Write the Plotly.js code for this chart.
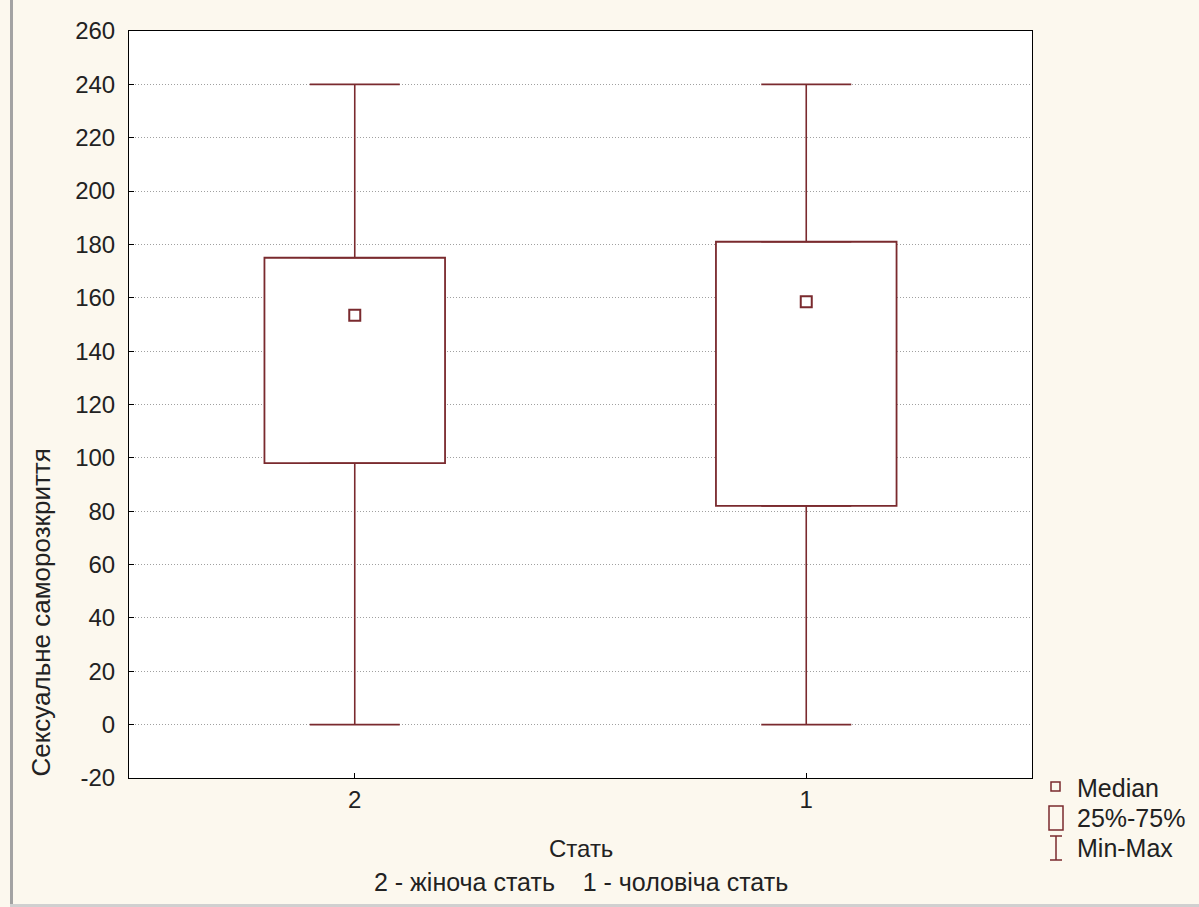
<!DOCTYPE html>
<html>
<head>
<meta charset="utf-8">
<script src="https://cdn.plot.ly/plotly-3.0.1.min.js"></script>
<style>
  html, body { margin:0; padding:0; background:#fcf8ee; }
  #chart { width:1199px; height:907px; }
  #lb { position:absolute; left:10px; top:0; width:3px; height:905px; background:#a3a3a3; }
  #bb { position:absolute; left:10px; top:904px; width:1189px; height:3px; background:#d0d0d0; }
</style>
</head>
<body>
<div id="chart"></div>
<div id="lb"></div>
<div id="bb"></div>
<script>
// Data
const categories = ['2', '1'];
const minVals    = [0, 0];
const q1Vals     = [98, 82];
const medianVals = [153.5, 158.5];
const q3Vals     = [175, 181];
const maxVals    = [240, 240];
const yTicks = [-20, 0, 20, 40, 60, 80, 100, 120, 140, 160, 180, 200, 220, 240, 260];

const C = '#7a2a2e';
const FONT = 'Liberation Sans, Arial, sans-serif';
const TXT = '#222';

const traces = [
  // lower whisker: from min up to q1
  {
    type: 'scatter', mode: 'markers', x: categories, y: q1Vals,
    marker: {size: 0.1, opacity: 0},
    error_y: {type: 'data', symmetric: false,
      array: q1Vals.map(() => 0),
      arrayminus: q1Vals.map((v, i) => v - minVals[i]),
      color: C, thickness: 1.6, width: 45},
    showlegend: false, hoverinfo: 'skip'
  },
  // upper whisker: from q3 up to max
  {
    type: 'scatter', mode: 'markers', x: categories, y: q3Vals,
    marker: {size: 0.1, opacity: 0},
    error_y: {type: 'data', symmetric: false,
      array: q3Vals.map((v, i) => maxVals[i] - v),
      arrayminus: q3Vals.map(() => 0),
      color: C, thickness: 1.6, width: 45},
    showlegend: false, hoverinfo: 'skip'
  },
  // box 25%-75%
  {
    type: 'bar', x: categories, base: q1Vals,
    y: q3Vals.map((v, i) => v - q1Vals[i]),
    width: 0.4,
    marker: {color: '#ffffff', line: {color: C, width: 1.8}},
    showlegend: false, hoverinfo: 'skip'
  },
  // median
  {
    type: 'scatter', mode: 'markers', x: categories, y: medianVals,
    marker: {symbol: 'square-open', size: 11, color: C, line: {width: 2, color: C}},
    showlegend: false
  }
];

const layout = {
  width: 1199, height: 907,
  paper_bgcolor: '#fcf8ee',
  plot_bgcolor: '#ffffff',
  margin: {l: 129, r: 167, t: 31, b: 129},
  font: {family: FONT, size: 24, color: TXT},
  showlegend: false,
  barmode: 'overlay',
  xaxis: {
    type: 'category', categoryorder: 'array', categoryarray: categories,
    range: [-0.5, 1.5],
    showline: true, linecolor: '#000', linewidth: 1, mirror: true,
    showgrid: false, zeroline: false,
    ticks: 'inside', ticklen: 5, tickcolor: '#000',
    tickfont: {family: FONT, size: 24, color: TXT}
  },
  yaxis: {
    range: [-20, 260], tickvals: yTicks, ticktext: yTicks.map(String),
    showline: true, linecolor: '#000', linewidth: 1, mirror: true,
    showgrid: true, gridcolor: '#a0a0a0', griddash: '1px,2px', gridwidth: 1,
    zeroline: false,
    ticks: 'inside', ticklen: 5, tickcolor: '#000',
    ticklabelstandoff: 8,
    tickfont: {family: FONT, size: 24, color: TXT}
  },
  annotations: [
    {xref: 'paper', yref: 'paper', x: -0.097, y: 0.222, xanchor: 'center', yanchor: 'middle',
     text: 'Сексуальне саморозкриття', textangle: -90, showarrow: false,
     font: {family: FONT, size: 26, color: TXT}},
    {xref: 'paper', yref: 'paper', x: 0.5, y: -0.094, xanchor: 'center', yanchor: 'middle',
     text: 'Стать', showarrow: false, font: {family: FONT, size: 24, color: TXT}},
    {xref: 'paper', yref: 'paper', x: 0.5, y: -0.139, xanchor: 'center', yanchor: 'middle',
     text: '2 - жіноча стать &nbsp;&nbsp;&nbsp;1 - чоловіча стать', showarrow: false,
     font: {family: FONT, size: 25, color: TXT}},
    {xref: 'paper', yref: 'paper', x: 1.048, y: -0.0135, xanchor: 'left', yanchor: 'middle',
     text: 'Median', showarrow: false, font: {family: FONT, size: 25, color: TXT}},
    {xref: 'paper', yref: 'paper', x: 1.048, y: -0.0535, xanchor: 'left', yanchor: 'middle',
     text: '25%-75%', showarrow: false, font: {family: FONT, size: 25, color: TXT}},
    {xref: 'paper', yref: 'paper', x: 1.048, y: -0.0937, xanchor: 'left', yanchor: 'middle',
     text: 'Min-Max', showarrow: false, font: {family: FONT, size: 25, color: TXT}}
  ],
  shapes: [
    // legend: median square
    {type: 'rect', xref: 'paper', yref: 'paper',
     x0: (1051 - 129) / 903, x1: (1060 - 129) / 903,
     y0: (778 - 791) / 747, y1: (778 - 782) / 747,
     line: {color: C, width: 1.5}, fillcolor: 'rgba(0,0,0,0)'},
    // legend: box
    {type: 'rect', xref: 'paper', yref: 'paper',
     x0: (1049 - 129) / 903, x1: (1063 - 129) / 903,
     y0: (778 - 830) / 747, y1: (778 - 806) / 747,
     line: {color: C, width: 1.5}, fillcolor: 'rgba(0,0,0,0)'},
    // legend: whisker
    {type: 'path', xref: 'paper', yref: 'paper',
     path: 'M ' + (1050 - 129) / 903 + ' ' + (778 - 836) / 747 +
           ' L ' + (1062 - 129) / 903 + ' ' + (778 - 836) / 747 +
           ' M ' + (1056 - 129) / 903 + ' ' + (778 - 836) / 747 +
           ' L ' + (1056 - 129) / 903 + ' ' + (778 - 860) / 747 +
           ' M ' + (1050 - 129) / 903 + ' ' + (778 - 860) / 747 +
           ' L ' + (1062 - 129) / 903 + ' ' + (778 - 860) / 747,
     line: {color: C, width: 1.5}}
  ]
};

Plotly.newPlot('chart', traces, layout, {staticPlot: true, displayModeBar: false});
</script>
</body>
</html>
